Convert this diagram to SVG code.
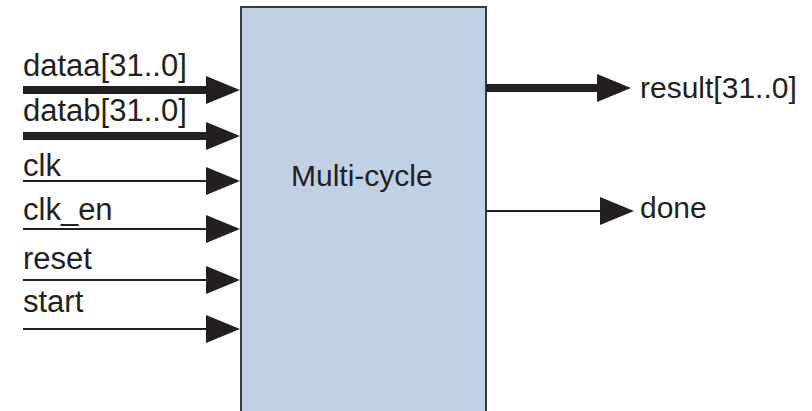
<svg xmlns="http://www.w3.org/2000/svg" width="812" height="411" viewBox="0 0 812 411">
  <style>
    .lbl { font-family: "Liberation Sans", Arial, sans-serif; font-size: 30px; fill: #231f20; }
    .in { font-size: 31px; }
    .thin { stroke: #231f20; stroke-width: 2; fill: none; }
    .bus { stroke: #231f20; stroke-width: 8; fill: none; }
  </style>
  <defs>
    <marker id="arr" markerUnits="userSpaceOnUse" markerWidth="36" markerHeight="30" refX="9" refY="14" orient="auto" viewBox="0 0 36 30">
      <polygon points="0,0 34,14 0,28" fill="#231f20"/>
    </marker>
  </defs>
  <rect width="812" height="411" fill="#ffffff"/>
  <g id="multicycle">
    <rect x="241" y="7" width="245" height="420" fill="#c0d0e5" stroke="#3a3a3a" stroke-width="2"/>
    <text class="lbl" x="291" y="186">Multi-cycle</text>
  </g>
  <g id="connectors">
    <line class="bus" x1="23" y1="90" x2="215" y2="90" marker-end="url(#arr)"/>
    <line class="bus" x1="23" y1="136" x2="215" y2="136" marker-end="url(#arr)"/>
    <line class="thin" x1="23" y1="181" x2="215" y2="181" marker-end="url(#arr)"/>
    <line class="thin" x1="23" y1="229" x2="215" y2="229" marker-end="url(#arr)"/>
    <line class="thin" x1="23" y1="280" x2="215" y2="280" marker-end="url(#arr)"/>
    <line class="thin" x1="23" y1="329" x2="215" y2="329" marker-end="url(#arr)"/>
    <line class="bus" x1="486" y1="88" x2="606" y2="88" marker-end="url(#arr)"/>
    <line class="thin" x1="486" y1="211" x2="609" y2="211" marker-end="url(#arr)"/>
  </g>
  <g id="labels">
    <text class="lbl in" x="23" y="76">dataa[31..0]</text>
    <text class="lbl in" x="23" y="121">datab[31..0]</text>
    <text class="lbl in" x="23" y="176">clk</text>
    <text class="lbl in" x="23" y="220">clk_en</text>
    <text class="lbl in" x="23" y="269">reset</text>
    <text class="lbl in" x="23" y="312">start</text>
    <text class="lbl" x="640" y="98">result[31..0]</text>
    <text class="lbl" x="640" y="218">done</text>
  </g>
</svg>
